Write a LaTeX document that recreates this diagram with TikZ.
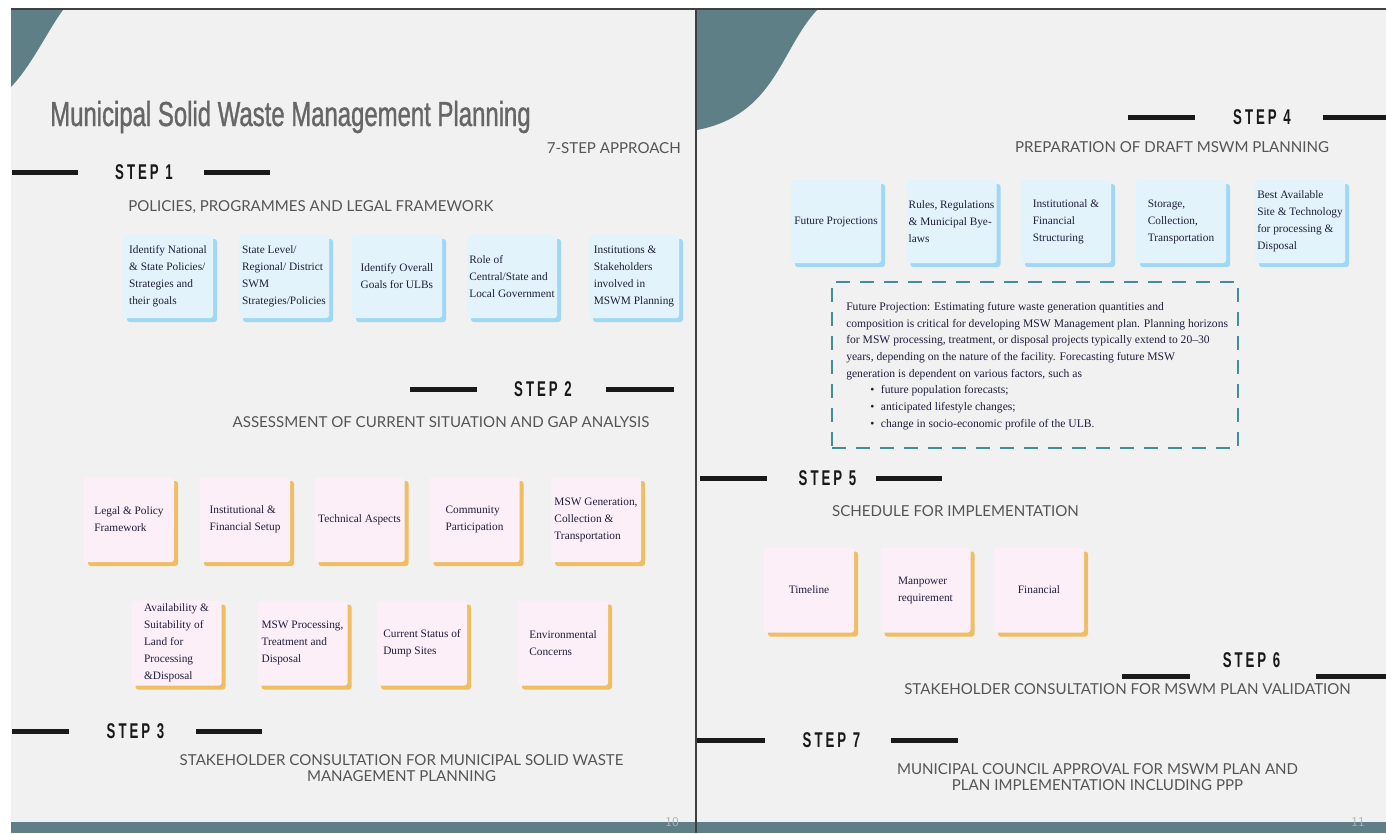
\documentclass[tikz,border=0pt]{standalone}
\usepackage{fontspec}
\setmainfont{Liberation Serif}
\newfontfamily\titlefont{Liberation Sans}[FakeStretch=0.69,FakeBold=1]
\newfontfamily\stepfont{Liberation Sans}[FakeStretch=0.62,LetterSpace=14]
\newfontfamily\capfont{Lato}
\usepackage{tikz}
\usetikzlibrary{shadows}

\definecolor{pagebg}{HTML}{F1F1F1}
\definecolor{slate}{HTML}{5F7F87}
\definecolor{bluefill}{HTML}{E3F3FC}
\definecolor{blueshade}{HTML}{A0D8F4}
\definecolor{pinkfill}{HTML}{FDEFF8}
\definecolor{pinkshade}{HTML}{EFBD62}
\definecolor{ink}{HTML}{1E1E3C}
\definecolor{capgray}{HTML}{555555}
\definecolor{dashteal}{HTML}{3F8E9B}

\tikzset{
  bluebox/.style={fill=bluefill, rounded corners=2pt, minimum width=67.5pt, minimum height=62.25pt,
    inner xsep=1pt, inner ysep=0pt, align=left, text=ink, font=\fontsize{8.5}{12.75}\selectfont,
    general shadow={fill=blueshade, shadow xshift=3pt, shadow yshift=-3pt}},
  pinkbox/.style={fill=pinkfill, rounded corners=2pt, minimum width=67.5pt, minimum height=63.75pt,
    inner xsep=1pt, inner ysep=0pt, align=left, text=ink, font=\fontsize{8.5}{12.75}\selectfont,
    general shadow={fill=pinkshade, shadow xshift=3pt, shadow yshift=-3pt}},
  steplabel/.style={font=\stepfont\bfseries\fontsize{16}{18}\selectfont, text=black!90, inner sep=0pt},
  stepline/.style={line width=3.75pt, black!90},
  caption/.style={font=\capfont\fontsize{11.3}{12}\selectfont, text=capgray, align=center, inner sep=0pt},
}

\begin{document}
\begin{tikzpicture}[x=0.75pt, y=-0.75pt]
  \useasboundingbox (0,0) rectangle (1386,833);
  \fill[white] (0,0) rectangle (1386,833);
  \fill[pagebg] (11,10) rectangle (1386,833);

  % corner swooshes and bottom band
  \fill[slate] (11,10) -- (63,10) .. controls (48,30) and (32,65) .. (11,87) -- cycle;
  \fill[slate] (697,10) -- (817,10) .. controls (780,50) and (775,115) .. (697,130) -- cycle;
  \fill[slate] (11,822) rectangle (1386,833);

  % page frame
  \draw[line width=1.5pt, black!75] (11,9) -- (1386,9);
  \draw[line width=1.5pt, black!75] (696,9) -- (696,833);

  % Title
  \node[anchor=base west, font=\titlefont\fontsize{26}{30}\selectfont, text=black!60, inner sep=0pt]
    (title) at (50,126) {Municipal Solid Waste Management Planning};
  \node[caption, anchor=east] (approach) at (681,148) {7-STEP APPROACH};

  % Step 1
  \draw[stepline] (12,172) -- (78,172);
  \node[steplabel] (step1) at (144,172) {STEP 1};
  \draw[stepline] (204,172) -- (270,172);
  \node[caption, anchor=west] (cap1) at (128,207) {POLICIES, PROGRAMMES AND LEGAL FRAMEWORK};

  \node[bluebox] (s1a) at (168,276.5) {Identify National\\\& State Policies/\\Strategies and\\their goals};
  \node[bluebox] (s1b) at (284,276.5) {State Level/\\Regional/ District\\SWM\\Strategies/Policies};
  \node[bluebox] (s1c) at (397,276.5) {Identify Overall\\Goals for ULBs};
  \node[bluebox] (s1d) at (512,276.5) {Role of\\Central/State and\\Local Government};
  \node[bluebox] (s1e) at (634,276.5) {Institutions \&\\Stakeholders\\involved in\\MSWM Planning};

  % Step 2
  \draw[stepline] (410,389) -- (477,389);
  \node[steplabel] (step2) at (543,389) {STEP 2};
  \draw[stepline] (606,389) -- (674,389);
  \node[caption] (cap2) at (441,422) {ASSESSMENT OF CURRENT SITUATION AND GAP ANALYSIS};

  \node[pinkbox] (s2a) at (129,519.5) {Legal \& Policy\\Framework};
  \node[pinkbox] (s2b) at (245,519.5) {Institutional \&\\Financial Setup};
  \node[pinkbox] (s2c) at (359.5,519.5) {Technical Aspects};
  \node[pinkbox] (s2d) at (474.5,519.5) {Community\\Participation};
  \node[pinkbox] (s2e) at (596,519.5) {MSW Generation,\\Collection \&\\Transportation};

  \node[pinkbox] (s2f) at (176.5,643) {Availability \&\\Suitability of\\Land for\\Processing\\\&Disposal};
  \node[pinkbox] (s2g) at (302.5,643) {MSW Processing,\\Treatment and\\Disposal};
  \node[pinkbox] (s2h) at (422,643) {Current Status of\\Dump Sites};
  \node[pinkbox] (s2i) at (563,643) {Environmental\\Concerns};

  % Step 3
  \draw[stepline] (12,731) -- (69,731);
  \node[steplabel] (step3) at (135.5,731) {STEP 3};
  \draw[stepline] (196,731) -- (262,731);
  \node[caption] (cap3) at (401.5,768) {STAKEHOLDER CONSULTATION FOR MUNICIPAL SOLID WASTE\\MANAGEMENT PLANNING};

  % Step 4
  \draw[stepline] (1128,117) -- (1195,117);
  \node[steplabel] (step4) at (1262,117) {STEP 4};
  \draw[stepline] (1323,117) -- (1386,117);
  \node[caption] (cap4) at (1172,147) {PREPARATION OF DRAFT MSWM PLANNING};

  \node[bluebox] (s4a) at (836,221.5) {Future Projections};
  \node[bluebox] (s4b) at (951.5,221.5) {Rules, Regulations\\\& Municipal Bye-\\laws};
  \node[bluebox] (s4c) at (1066,221.5) {Institutional \&\\Financial\\Structuring};
  \node[bluebox] (s4d) at (1181,221.5) {Storage,\\Collection,\\Transportation};
  \node[bluebox] (s4e) at (1300,221.5) {Best Available\\Site \& Technology\\for processing \&\\Disposal};

  % Future projection note
  \node[draw=dashteal, line width=2.2pt, dash pattern=on 10.5pt off 7.5pt, minimum width=304.5pt,
    minimum height=124.5pt] (proj) at (1035,365) {};
  \node[anchor=north west, inner sep=0pt, align=left, text=ink, font=\fontsize{8.7}{12.5}\selectfont]
    (projtext) at (846,302) {Future Projection: Estimating future waste generation quantities and\\
    composition is critical for developing MSW Management plan. Planning horizons\\
    for MSW processing, treatment, or disposal projects typically extend to 20--30\\
    years, depending on the nature of the facility. Forecasting future MSW\\
    generation is dependent on various factors, such as\\
    \hspace*{18pt}\textbullet\hspace{5pt}future population forecasts;\\
    \hspace*{18pt}\textbullet\hspace{5pt}anticipated lifestyle changes;\\
    \hspace*{18pt}\textbullet\hspace{5pt}change in socio-economic profile of the ULB.};

  % Step 5
  \draw[stepline] (700,478) -- (767,478);
  \node[steplabel] (step5) at (827.5,478) {STEP 5};
  \draw[stepline] (876,478) -- (942,478);
  \node[caption] (cap5) at (955.5,511) {SCHEDULE FOR IMPLEMENTATION};

  \node[pinkbox] (s5a) at (809,590) {Timeline};
  \node[pinkbox] (s5b) at (925.5,590) {Manpower\\requirement};
  \node[pinkbox] (s5c) at (1039,590) {Financial};

  % Step 6
  \node[steplabel] (step6) at (1251.5,660) {STEP 6};
  \draw[stepline] (1122,676) -- (1190,676);
  \draw[stepline] (1316,676) -- (1386,676);
  \node[caption] (cap6) at (1127.5,689) {STAKEHOLDER CONSULTATION FOR MSWM PLAN VALIDATION};

  % Step 7
  \draw[stepline] (697,740) -- (765,740);
  \node[steplabel] (step7) at (831.5,740) {STEP 7};
  \draw[stepline] (891,740) -- (958,740);
  \node[caption] (cap7) at (1097.5,777) {MUNICIPAL COUNCIL APPROVAL FOR MSWM PLAN AND\\PLAN IMPLEMENTATION INCLUDING PPP};

  % page numbers
  \node[font=\sffamily\fontsize{10}{12}\selectfont, text=black!30] (pg10) at (672,822) {10};
  \node[font=\sffamily\fontsize{10}{12}\selectfont, text=black!30] (pg11) at (1358,822) {11};
\end{tikzpicture}
\end{document}
